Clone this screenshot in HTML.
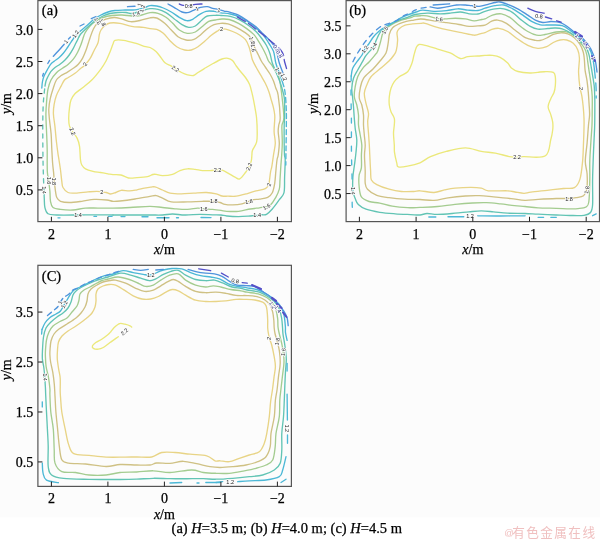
<!DOCTYPE html><html><head><meta charset="utf-8"><style>html,body{margin:0;padding:0;background:#fff;}svg{display:block;}</style></head><body>
<svg width="600" height="540" viewBox="0 0 600 540">
<rect x="0" y="0" width="600" height="517.5" fill="#fcfcfc"/>
<rect x="0" y="517.5" width="600" height="22.5" fill="#ffffff"/>
<defs>
<clipPath id="clipa"><rect x="37.9" y="0.6" width="253.5" height="221"/></clipPath>
<clipPath id="clipb"><rect x="346.1" y="0.6" width="253.4" height="221"/></clipPath>
<clipPath id="clipc"><rect x="37.9" y="265.3" width="253.5" height="221.1"/></clipPath>
</defs>
<g clip-path="url(#clipa)"><g fill="none" stroke-width="1.35" stroke-linejoin="round" stroke-linecap="round">
<path stroke="#ebe87a" d="M80.5,160 C80.12,156.85 80.05,149.7 79.5,146.1 C78.95,142.5 78.35,140.83 77.2,138.4 C76.05,135.97 73.88,133.55 72.6,131.5 C71.32,129.45 70.15,128.28 69.5,126.1 C68.85,123.92 68.7,121.47 68.7,118.4 C68.7,115.33 69.12,110.77 69.5,107.7 C69.88,104.63 70.1,102.32 71,100 C71.9,97.68 72.97,95.85 74.9,93.8 C76.83,91.75 79.78,90 82.6,87.7 C85.42,85.4 88.78,83.07 91.8,80 C94.82,76.93 98.33,72.47 100.7,69.3 C103.07,66.13 104.45,63.88 106,61 C107.55,58.12 108.83,54.83 110,52 C111.17,49.17 112.17,45.95 113,44 C113.83,42.05 113.25,40.92 115,40.3 C116.75,39.68 120.13,39.82 123.5,40.3 C126.87,40.78 131.5,42.13 135.2,43.2 C138.9,44.27 143.23,45.98 145.7,46.7 C148.17,47.42 148.28,46.7 150,47.5 C151.72,48.3 154.25,49.92 156,51.5 C157.75,53.08 159,55.12 160.5,57 C162,58.88 163.25,61.33 165,62.8 C166.75,64.27 169.25,64.8 171,65.8 C172.75,66.8 173.75,67.68 175.5,68.8 C177.25,69.92 179.5,71.5 181.5,72.5 C183.5,73.5 185.5,74.3 187.5,74.8 C189.5,75.3 191.75,75.88 193.5,75.5 C195.25,75.12 196.25,73.62 198,72.5 C199.75,71.38 201.5,70.3 204,68.8 C206.5,67.3 210,65.13 213,63.5 C216,61.87 219.5,59.87 222,59 C224.5,58.13 226.25,58.05 228,58.3 C229.75,58.55 231.12,59.22 232.5,60.5 C233.88,61.78 235.1,64.33 236.3,66 C237.5,67.67 238.17,68.58 239.7,70.5 C241.23,72.42 243.85,75.17 245.5,77.5 C247.15,79.83 248.53,81.97 249.6,84.5 C250.67,87.03 251.22,89.98 251.9,92.7 C252.58,95.42 253.12,97.88 253.7,100.8 C254.28,103.72 254.92,107.28 255.4,110.2 C255.88,113.12 256.3,114.72 256.6,118.3 C256.9,121.88 257.2,127.72 257.2,131.7 C257.2,135.68 257.38,139.1 256.6,142.2 C255.82,145.3 253.28,148.17 252.5,150.3 C251.72,152.43 252.1,153.25 251.9,155 C251.7,156.75 251.78,158.85 251.3,160.8 C250.82,162.75 249.97,164.75 249,166.7 C248.03,168.65 247.05,170.47 245.5,172.5 C243.95,174.53 241.45,178.12 239.7,178.9 C237.95,179.68 236.95,178.17 235,177.2 C233.05,176.23 230.13,174.27 228,173.1 C225.87,171.93 223.95,170.72 222.2,170.2 C220.45,169.68 219.53,169.93 217.5,170 C215.47,170.07 212.5,170.5 210,170.6 C207.5,170.7 205,170.8 202.5,170.6 C200,170.4 197.5,169.7 195,169.4 C192.5,169.1 190,168.6 187.5,168.8 C185,169 182.5,169.67 180,170.6 C177.5,171.53 175.42,173.57 172.5,174.4 C169.58,175.23 165.2,175.6 162.5,175.6 C159.8,175.6 157.92,174.58 156.3,174.4 C154.68,174.22 154.27,174.13 152.8,174.5 C151.33,174.87 150.13,176.07 147.5,176.6 C144.87,177.13 140.17,177.47 137,177.7 C133.83,177.93 131.17,178.45 128.5,178 C125.83,177.55 123.58,175.57 121,175 C118.42,174.43 115.17,174.8 113,174.6 C110.83,174.4 110.08,174.15 108,173.8 C105.92,173.45 103,172.92 100.5,172.5 C98,172.08 95.5,171.92 93,171.3 C90.5,170.68 87.37,169.85 85.5,168.8 C83.63,167.75 82.63,166.47 81.8,165 C80.97,163.53 80.88,163.15 80.5,160 Z"/>
<path stroke="#e8d486" d="M106.3,192.5 C104.83,192.15 103.38,192.1 101.8,191.9 C100.22,191.7 99.1,191.3 96.8,191.3 C94.5,191.3 91.55,191.6 88,191.9 C84.45,192.2 78.83,193 75.5,193.1 C72.17,193.2 70.08,193.43 68,192.5 C65.92,191.57 64.03,189.37 63,187.5 C61.97,185.63 62.22,184.22 61.8,181.3 C61.38,178.38 60.97,173.55 60.5,170 C60.03,166.45 59.42,162.7 59,160 C58.58,157.3 58.43,156.88 58,153.8 C57.57,150.72 56.92,146.12 56.4,141.5 C55.88,136.88 55.4,130.72 54.9,126.1 C54.4,121.48 53.53,117.38 53.4,113.8 C53.27,110.22 53.6,107.67 54.1,104.6 C54.6,101.53 55.23,98.48 56.4,95.4 C57.57,92.32 59.75,88.67 61.1,86.1 C62.45,83.53 63.3,81.43 64.5,80 C65.7,78.57 66.55,78.62 68.3,77.5 C70.05,76.38 72.92,74.83 75,73.3 C77.08,71.77 79.18,69.63 80.8,68.3 C82.42,66.97 83.17,66.9 84.7,65.3 C86.23,63.7 88.45,61.13 90,58.7 C91.55,56.27 92.67,53.37 94,50.7 C95.33,48.03 97.12,45.37 98,42.7 C98.88,40.03 98.8,36.82 99.3,34.7 C99.8,32.58 100.05,31.53 101,30 C101.95,28.47 103.5,26.67 105,25.5 C106.5,24.33 107.5,23.37 110,23 C112.5,22.63 116.38,22.75 120,23.3 C123.62,23.85 127.82,25.62 131.7,26.3 C135.58,26.98 140.25,27 143.3,27.4 C146.35,27.8 147.77,28.38 150,28.7 C152.23,29.02 154.48,28.53 156.7,29.3 C158.92,30.07 161.08,31.4 163.3,33.3 C165.52,35.2 167.77,38.47 170,40.7 C172.23,42.93 174.25,45.15 176.7,46.7 C179.15,48.25 182.27,49.45 184.7,50 C187.13,50.55 189.08,50.55 191.3,50 C193.52,49.45 195.77,48.15 198,46.7 C200.23,45.25 202.48,43.2 204.7,41.3 C206.92,39.4 209.08,37.07 211.3,35.3 C213.52,33.53 216.38,31.75 218,30.7 C219.62,29.65 219.72,29.25 221,29 C222.28,28.75 223.75,28.78 225.7,29.2 C227.65,29.62 230.37,30.53 232.7,31.5 C235.03,32.47 237.57,33.63 239.7,35 C241.83,36.37 243.95,37.75 245.5,39.7 C247.05,41.65 248.08,44.32 249,46.7 C249.92,49.08 250.42,51.78 251,54 C251.58,56.22 251.67,57.83 252.5,60 C253.33,62.17 254.63,64.47 256,67 C257.37,69.53 259.15,72.48 260.7,75.2 C262.25,77.92 263.95,80.58 265.3,83.3 C266.65,86.02 267.82,88.77 268.8,91.5 C269.78,94.23 270.42,96.98 271.2,99.7 C271.98,102.42 272.92,105.28 273.5,107.8 C274.08,110.32 274.5,112.77 274.7,114.8 C274.9,116.83 274.8,117.18 274.7,120 C274.6,122.82 274,127.82 274.1,131.7 C274.2,135.58 275.4,139.42 275.3,143.3 C275.2,147.18 274.08,151.1 273.5,155 C272.92,158.9 272.28,163.92 271.8,166.7 C271.32,169.48 271,169.32 270.6,171.7 C270.2,174.08 269.7,178.87 269.4,181 C269.1,183.13 269.48,183.23 268.8,184.5 C268.12,185.77 267.43,187.53 265.3,188.6 C263.17,189.67 259.1,190.03 256,190.9 C252.9,191.77 250,192.92 246.7,193.8 C243.4,194.68 239.32,195.8 236.2,196.2 C233.08,196.6 230.37,196.23 228,196.2 C225.63,196.17 223.95,196.4 222,196 C220.05,195.6 218.92,194.38 216.3,193.8 C213.68,193.22 210.05,192.62 206.3,192.5 C202.55,192.38 197.97,192.88 193.8,193.1 C189.63,193.32 185.27,193.8 181.3,193.8 C177.33,193.8 173.13,193.73 170,193.1 C166.87,192.47 165,191.03 162.5,190 C160,188.97 156.97,187.37 155,186.9 C153.03,186.43 152.47,186.98 150.7,187.2 C148.93,187.42 146.68,187.77 144.4,188.2 C142.12,188.63 139.47,189.35 137,189.8 C134.53,190.25 132.25,190.82 129.6,190.9 C126.95,190.98 123.4,190.03 121.1,190.3 C118.8,190.57 117.55,191.88 115.8,192.5 C114.05,193.12 112.18,194 110.6,194 C109.02,194 107.77,192.85 106.3,192.5 Z"/>
<path stroke="#cfc184" d="M113,201.3 C110.8,201.13 109.92,200.32 106.8,200 C103.68,199.68 98.47,199.18 94.3,199.4 C90.13,199.62 85.97,200.78 81.8,201.3 C77.63,201.82 72.85,202.5 69.3,202.5 C65.75,202.5 62.58,202.13 60.5,201.3 C58.42,200.47 57.63,199.17 56.8,197.5 C55.97,195.83 55.92,194 55.5,191.3 C55.08,188.6 54.62,184.43 54.3,181.3 C53.98,178.17 53.88,175.55 53.6,172.5 C53.32,169.45 52.9,166.88 52.6,163 C52.3,159.12 52.05,154.07 51.8,149.2 C51.55,144.33 51.48,138.67 51.1,133.8 C50.72,128.93 49.88,124.1 49.5,120 C49.12,115.9 48.67,112.8 48.8,109.2 C48.93,105.6 49.53,101.98 50.3,98.4 C51.07,94.82 52.38,90.77 53.4,87.7 C54.42,84.63 55.17,81.98 56.4,80 C57.63,78.02 58.95,77.12 60.8,75.8 C62.65,74.48 65.42,73.35 67.5,72.1 C69.58,70.85 71.5,69.62 73.3,68.3 C75.1,66.98 76.77,65.87 78.3,64.2 C79.83,62.53 81.25,60.53 82.5,58.3 C83.75,56.07 84.83,53.3 85.8,50.8 C86.77,48.3 87.6,45.43 88.3,43.3 C89,41.17 89.17,40.35 90,38 C90.83,35.65 92.05,31.65 93.3,29.2 C94.55,26.75 95.42,24.97 97.5,23.3 C99.58,21.63 103.02,20.17 105.8,19.2 C108.58,18.23 111.42,17.5 114.2,17.5 C116.98,17.5 119.73,18.5 122.5,19.2 C125.27,19.9 127.88,21.48 130.8,21.7 C133.72,21.92 136.8,21.15 140,20.5 C143.2,19.85 147.22,18.22 150,17.8 C152.78,17.38 154.25,17.08 156.7,18 C159.15,18.92 162.27,21.3 164.7,23.3 C167.13,25.3 169.08,27.77 171.3,30 C173.52,32.23 175.55,35.03 178,36.7 C180.45,38.37 183.33,39.57 186,40 C188.67,40.43 191.55,40.18 194,39.3 C196.45,38.42 198.48,36.47 200.7,34.7 C202.92,32.93 205.08,30.37 207.3,28.7 C209.52,27.03 211.77,25.6 214,24.7 C216.23,23.8 218.37,23.43 220.7,23.3 C223.03,23.17 225.42,23.22 228,23.9 C230.58,24.58 233.48,26.03 236.2,27.4 C238.92,28.77 241.97,30.45 244.3,32.1 C246.63,33.75 248.45,34.68 250.2,37.3 C251.95,39.92 253.45,44.88 254.8,47.8 C256.15,50.72 257.22,52.6 258.3,54.8 C259.38,57 260.13,58.97 261.3,61 C262.47,63.03 263.85,64.83 265.3,67 C266.75,69.17 268.63,71.67 270,74 C271.37,76.33 272.53,78.67 273.5,81 C274.47,83.33 275.03,85.67 275.8,88 C276.57,90.33 277.37,90.08 278.1,95 C278.83,99.92 280.08,112.5 280.2,117.5 C280.32,122.5 279.13,122.63 278.8,125 C278.47,127.37 278.12,128.65 278.2,131.7 C278.28,134.75 279.3,139.42 279.3,143.3 C279.3,147.18 278.58,152.22 278.2,155 C277.82,157.78 277.4,157.22 277,160 C276.6,162.78 276.18,167.82 275.8,171.7 C275.42,175.58 275.28,179.8 274.7,183.3 C274.12,186.8 273.47,190.37 272.3,192.7 C271.13,195.03 269.83,196.23 267.7,197.3 C265.57,198.37 261.83,198.7 259.5,199.1 C257.17,199.5 255.45,199.32 253.7,199.7 C251.95,200.08 250.95,200.72 249,201.4 C247.05,202.08 244.72,203.22 242,203.8 C239.28,204.38 235.53,204.8 232.7,204.9 C229.87,205 227.12,204.8 225,204.4 C222.88,204 221.87,203.02 220,202.5 C218.13,201.98 216.72,201.5 213.8,201.3 C210.88,201.1 206.88,201.2 202.5,201.3 C198.12,201.4 192.7,201.8 187.5,201.9 C182.3,202 175.47,202.53 171.3,201.9 C167.13,201.27 165,199.15 162.5,198.1 C160,197.05 158.38,195.9 156.3,195.6 C154.22,195.3 153.55,195.73 150,196.3 C146.45,196.87 140,198.22 135,199 C130,199.78 123.67,200.62 120,201 C116.33,201.38 115.2,201.47 113,201.3 Z"/>
<path stroke="#a4cc90" d="M113,208.1 C107.67,208.2 102.58,208.1 98,208.1 C93.42,208.1 89.67,207.78 85.5,208.1 C81.33,208.42 77.17,209.78 73,210 C68.83,210.22 63.83,209.82 60.5,209.4 C57.17,208.98 54.67,208.85 53,207.5 C51.33,206.15 51.02,204 50.5,201.3 C49.98,198.6 50.22,194.75 49.9,191.3 C49.58,187.85 49.02,183.73 48.6,180.6 C48.18,177.47 47.63,175.43 47.4,172.5 C47.17,169.57 47.23,166.63 47.2,163 C47.17,159.37 47.25,154.53 47.2,150.7 C47.15,146.87 47.05,144.1 46.9,140 C46.75,135.9 46.47,130.47 46.3,126.1 C46.13,121.73 45.85,117.9 45.9,113.8 C45.95,109.7 46.25,105.6 46.6,101.5 C46.95,97.4 47.27,92.78 48,89.2 C48.73,85.62 49.55,82.78 51,80 C52.45,77.22 54.78,74.45 56.7,72.5 C58.62,70.55 60.57,69.68 62.5,68.3 C64.43,66.92 66.5,65.72 68.3,64.2 C70.1,62.68 71.77,61.15 73.3,59.2 C74.83,57.25 76.25,54.87 77.5,52.5 C78.75,50.13 79.97,47.08 80.8,45 C81.63,42.92 81.8,42 82.5,40 C83.2,38 83.75,35.33 85,33 C86.25,30.67 88.17,28 90,26 C91.83,24 93.83,22.42 96,21 C98.17,19.58 100.33,18.42 103,17.5 C105.67,16.58 108.83,15.92 112,15.5 C115.17,15.08 118.67,14.92 122,15 C125.33,15.08 129,15.92 132,16 C135,16.08 137,16.05 140,15.5 C143,14.95 147,13.07 150,12.7 C153,12.33 155.33,12.53 158,13.3 C160.67,14.07 163.55,15.63 166,17.3 C168.45,18.97 170.48,21.18 172.7,23.3 C174.92,25.42 176.87,28.33 179.3,30 C181.73,31.67 184.63,32.97 187.3,33.3 C189.97,33.63 192.85,33.1 195.3,32 C197.75,30.9 199.77,28.48 202,26.7 C204.23,24.92 206.48,22.42 208.7,21.3 C210.92,20.18 213.08,20.38 215.3,20 C217.52,19.62 219.68,19.08 222,19 C224.32,18.92 226.45,18.78 229.2,19.5 C231.95,20.22 235.58,21.78 238.5,23.3 C241.42,24.82 244.17,26.75 246.7,28.6 C249.23,30.45 251.77,32.37 253.7,34.4 C255.63,36.43 256.85,38.57 258.3,40.8 C259.75,43.03 261.13,45.47 262.4,47.8 C263.67,50.13 264.88,52.6 265.9,54.8 C266.92,57 267.43,59.17 268.5,61 C269.57,62.83 271.08,64.02 272.3,65.8 C273.52,67.58 274.63,69.55 275.8,71.7 C276.97,73.85 278.3,74.82 279.3,78.7 C280.3,82.58 281.03,88.53 281.8,95 C282.57,101.47 283.87,112.5 283.9,117.5 C283.93,122.5 282.32,122.63 282,125 C281.68,127.37 281.95,128.65 282,131.7 C282.05,134.75 282.35,139.42 282.3,143.3 C282.25,147.18 281.95,151.1 281.7,155 C281.45,158.9 281.08,162.53 280.8,166.7 C280.52,170.87 280.25,176.25 280,180 C279.75,183.75 280,186.32 279.3,189.2 C278.6,192.08 277.35,194.58 275.8,197.3 C274.25,200.02 271.55,203.93 270,205.5 C268.45,207.07 268.25,206.32 266.5,206.7 C264.75,207.08 262.22,207.42 259.5,207.8 C256.78,208.18 253.7,208.42 250.2,209 C246.7,209.58 242.4,210.92 238.5,211.3 C234.6,211.68 229.72,211.45 226.8,211.3 C223.88,211.15 223.38,210.72 221,210.4 C218.62,210.08 215.37,209.67 212.5,209.4 C209.63,209.13 206.3,209.02 203.8,208.8 C201.3,208.58 200.22,208 197.5,208.1 C194.78,208.2 191.25,209.28 187.5,209.4 C183.75,209.52 179.17,209.12 175,208.8 C170.83,208.48 166.67,207.92 162.5,207.5 C158.33,207.08 155.42,206.3 150,206.3 C144.58,206.3 136.17,207.2 130,207.5 C123.83,207.8 118.33,208 113,208.1 Z"/>
<path stroke="#62c4b4" d="M113,215 C109.88,214.97 100.13,214.8 94.3,214.8 C88.47,214.8 84.25,214.97 78,215 C71.75,215.03 61.8,215.2 56.8,215 C51.8,214.8 49.98,215.05 48,213.8 C46.02,212.55 45.52,209.97 44.9,207.5 C44.28,205.03 44.45,201.58 44.3,199 C44.15,196.42 44.05,193.17 44,192"/>
<path stroke="#62c4b4" stroke-dasharray="4 5" d="M44,192 C43.9,189.17 43.57,180.33 43.4,175 C43.23,169.67 43.1,165.83 43,160 C42.9,154.17 42.83,146.67 42.8,140 C42.77,133.33 42.73,125.83 42.8,120 C42.87,114.17 43,109.17 43.2,105 C43.4,100.83 43.7,98.17 44,95 C44.3,91.83 44.83,87.5 45,86"/>
<path stroke="#62c4b4" d="M45,86 C45.17,85.17 45.58,82.42 46,81 C46.42,79.58 46.7,79.05 47.5,77.5 C48.3,75.95 49.55,73.37 50.8,71.7 C52.05,70.03 53.47,68.75 55,67.5 C56.53,66.25 58.33,65.45 60,64.2 C61.67,62.95 63.47,61.53 65,60 C66.53,58.47 67.82,56.95 69.2,55 C70.58,53.05 72.2,50.25 73.3,48.3 C74.4,46.35 75.1,44.68 75.8,43.3 C76.5,41.92 76.8,41.38 77.5,40 C78.2,38.62 78.8,36.67 80,35 C81.2,33.33 83.03,31.67 84.7,30 C86.37,28.33 88.12,26.67 90,25 C91.88,23.33 93.83,21.5 96,20 C98.17,18.5 100.67,17.08 103,16 C105.33,14.92 107.5,14.08 110,13.5 C112.5,12.92 115.33,12.67 118,12.5 C120.67,12.33 123.67,12.33 126,12.5 C128.33,12.67 129.67,13.67 132,13.5 C134.33,13.33 137,12.3 140,11.5 C143,10.7 147,9.07 150,8.7 C153,8.33 155.33,8.63 158,9.3 C160.67,9.97 163.33,11.13 166,12.7 C168.67,14.27 171.33,16.7 174,18.7 C176.67,20.7 179.55,23.27 182,24.7 C184.45,26.13 186.48,27.08 188.7,27.3 C190.92,27.52 193.08,27.22 195.3,26 C197.52,24.78 200,21.67 202,20 C204,18.33 205.08,16.78 207.3,16 C209.52,15.22 213.02,15.38 215.3,15.3 C217.58,15.22 218.5,15.33 221,15.5 C223.5,15.67 227.18,15.58 230.3,16.3 C233.42,17.02 236.58,18.23 239.7,19.8 C242.82,21.37 246.28,23.75 249,25.7 C251.72,27.65 253.87,29.37 256,31.5 C258.13,33.63 260.05,36.17 261.8,38.5 C263.55,40.83 265.13,42.97 266.5,45.5 C267.87,48.03 269.03,50.78 270,53.7 C270.97,56.62 271.3,59.95 272.3,63 C273.3,66.05 274.72,68.83 276,72 C277.28,75.17 278.83,78.67 280,82 C281.17,85.33 282.25,89 283,92 C283.75,95 284.23,95.75 284.5,100 C284.77,104.25 284.65,113.33 284.6,117.5 C284.55,121.67 284.27,120.75 284.2,125 C284.13,129.25 284.15,138 284.2,143 C284.25,148 284.33,152.17 284.5,155 C284.67,157.83 285.18,156.25 285.2,160 C285.22,163.75 284.8,172.05 284.6,177.5 C284.4,182.95 284.88,189 284,192.7 C283.12,196.4 281.25,196.98 279.3,199.7 C277.35,202.42 274.43,206.57 272.3,209 C270.17,211.43 268.25,213.33 266.5,214.3 C264.75,215.27 263.35,214.62 261.8,214.8 C260.25,214.98 259.13,215.2 257.2,215.4 C255.27,215.6 253.32,215.8 250.2,216 C247.08,216.2 242.4,216.6 238.5,216.6 C234.6,216.6 229.72,216.27 226.8,216 C223.88,215.73 223.38,215.2 221,215 C218.62,214.8 216,214.9 212.5,214.8 C209,214.7 204.58,214.37 200,214.4 C195.42,214.43 189.58,215.07 185,215 C180.42,214.93 176.25,214 172.5,214 C168.75,214 166.25,214.83 162.5,215 C158.75,215.17 155.42,215 150,215 C144.58,215 136.17,215 130,215 C123.83,215 115.83,215 113,215"/>
<path stroke="#4cb8d6" d="M41.8,88 C41.9,87 42.07,83.88 42.4,82 C42.73,80.12 43.03,78.57 43.75,76.7 C44.47,74.83 45.53,72.88 46.7,70.8 C47.88,68.72 49.55,65.79 50.8,64.2 C52.05,62.61 52.8,62.37 54.2,61.25 C55.6,60.13 57.68,58.83 59.2,57.5 C60.72,56.17 61.92,54.97 63.3,53.3 C64.68,51.63 66.25,49.3 67.5,47.5 C68.75,45.7 69.97,43.75 70.8,42.5 C71.63,41.25 71.63,41.2 72.5,40 C73.37,38.8 74.63,36.85 76,35.3 C77.37,33.75 78.82,32.37 80.7,30.7 C82.58,29.03 85.25,27.08 87.3,25.3 C89.35,23.52 90.88,21.63 93,20 C95.12,18.37 97.5,16.83 100,15.5 C102.5,14.17 105.5,12.83 108,12 C110.5,11.17 112.17,10.83 115,10.5 C117.83,10.17 121.67,10.12 125,10 C128.33,9.88 131.67,10.22 135,9.8 C138.33,9.38 142.5,8.2 145,7.5 C147.5,6.8 148.05,5.85 150,5.6 C151.95,5.35 154.48,5.6 156.7,6 C158.92,6.4 160.87,7 163.3,8 C165.73,9 168.63,10.45 171.3,12 C173.97,13.55 176.73,15.85 179.3,17.3 C181.87,18.75 184.47,20.37 186.7,20.7 C188.93,21.03 190.6,20.3 192.7,19.3 C194.8,18.3 197.08,16.03 199.3,14.7 C201.52,13.37 203.55,11.87 206,11.3 C208.45,10.73 211.5,11.05 214,11.3 C216.5,11.55 218.28,12.35 221,12.8 C223.72,13.25 227,13.22 230.3,14 C233.6,14.78 237.48,15.95 240.8,17.5 C244.12,19.05 247.47,21.35 250.2,23.3 C252.93,25.25 254.87,27.05 257.2,29.2 C259.53,31.35 262.27,33.87 264.2,36.2 C266.13,38.53 267.25,40.68 268.8,43.2 C270.35,45.72 272.33,48 273.5,51.3 C274.67,54.6 274.88,59.55 275.8,63 C276.72,66.45 277.88,68.83 279,72 C280.12,75.17 281.92,80.33 282.5,82"/>
<path stroke="#4cb8d6" stroke-dasharray="5 3" d="M282.5,82 C282.92,83.67 284.37,87.33 285,92 C285.63,96.67 286.08,103.67 286.3,110 C286.52,116.33 286.35,123.33 286.3,130 C286.25,136.67 286.08,144.17 286,150 C285.92,155.83 285.83,162.5 285.8,165"/>
<path stroke="#4cb8d6" d="M157,217.7 L169,217.7"/>
<path stroke="#4cb8d6" d="M176.5,217.7 L178.5,217.7"/>
<path stroke="#4cb8d6" d="M201,217.5 L211,217.6"/>
<path stroke="#4cb8d6" d="M58,217.8 L60,217.8"/>
<path stroke="#4cb8d6" d="M94,216.4 L96.5,216.4"/>
<path stroke="#4cb8d6" d="M108.5,216.4 L112,216.4"/>
<path stroke="#4cb8d6" d="M121,216.6 L125,216.6"/>
<path stroke="#4cb8d6" d="M142,216.7 L148,216.7"/>
<path stroke="#4f94dc" d="M42.6,76 L43.4,73.5"/>
<path stroke="#4f94dc" d="M47.8,63.5 L49.6,60.4"/>
<path stroke="#4f94dc" d="M53.3,56.3 C54.17,55.38 56.68,52.82 58.5,50.8 C60.32,48.78 63.25,45.3 64.2,44.2"/>
<path stroke="#4f94dc" d="M68.5,39 L70.5,37"/>
<path stroke="#4f94dc" d="M80,26 L84,24"/>
<path stroke="#4f94dc" d="M91.3,18.6 L96,16.5"/>
<path stroke="#4f94dc" d="M127.5,6.7 L135,6.25"/>
<path stroke="#4f94dc" d="M168,4 C169,4.55 171.67,5.97 174,7.3 C176.33,8.63 179.78,11.1 182,12 C184.22,12.9 185.52,12.92 187.3,12.7 C189.08,12.48 191.03,11.37 192.7,10.7 C194.37,10.03 195.97,9.27 197.3,8.7 C198.63,8.13 199.03,7.63 200.7,7.3 C202.37,6.97 205.3,6.53 207.3,6.7 C209.3,6.87 210.8,7.82 212.7,8.3 C214.6,8.78 216.7,9.1 218.7,9.6 C220.7,10.1 223.15,10.95 224.7,11.3 C226.25,11.65 225.7,11.05 228,11.7 C230.3,12.35 235.2,13.65 238.5,15.2 C241.8,16.75 244.88,19.07 247.8,21 C250.72,22.93 253.47,24.67 256,26.8 C258.53,28.93 260.67,31.47 263,33.8 C265.33,36.13 267.87,38.27 270,40.8 C272.13,43.33 274.25,45.3 275.8,49 C277.35,52.7 278.1,59 279.3,63 C280.5,67 282.38,71.33 283,73"/>
<path stroke="#5450c8" d="M179.3,4 C179.97,4.22 181.73,5.03 183.3,5.3 C184.87,5.57 186.7,5.77 188.7,5.6 C190.7,5.43 193.08,4.57 195.3,4.3 C197.52,4.03 200.88,4.05 202,4"/>
<path stroke="#5450c8" stroke-dasharray="9 4" d="M237.3,16.9 C238.97,17.88 244.18,20.7 247.3,22.75 C250.42,24.8 253.97,27.66 256,29.2 C258.03,30.74 257.55,30.45 259.5,32 C261.45,33.55 264,35.28 267.7,38.5 C271.4,41.72 278.88,47.42 281.7,51.3 C284.52,55.18 283.72,58.68 284.6,61.8 C285.48,64.92 286.6,68.63 287,70"/>
</g></g>
<g font-family="Liberation Sans, Arial, sans-serif" font-size="5.5" fill="#222" text-anchor="middle" stroke="#fcfcfc" stroke-width="1.6" paint-order="stroke" stroke-linejoin="round">
<text x="188.7" y="5.6" dy="2" transform="rotate(0 188.7 5.6)">0.8</text>
<text x="197" y="8.6" dy="2" transform="rotate(-20 197 8.6)">1</text>
<text x="219" y="9.8" dy="2" transform="rotate(15 219 9.8)">1</text>
<text x="139.5" y="4.6" dy="2" transform="rotate(-70 139.5 4.6)">1</text>
<text x="142.2" y="8.4" dy="2" transform="rotate(-70 142.2 8.4)">1.2</text>
<text x="136" y="13.6" dy="2" transform="rotate(-15 136 13.6)">1.4</text>
<text x="97.5" y="21" dy="2" transform="rotate(55 97.5 21)">1.6</text>
<text x="102.5" y="22.5" dy="2" transform="rotate(55 102.5 22.5)">1.8</text>
<text x="66" y="41.5" dy="2" transform="rotate(-50 66 41.5)">1</text>
<text x="75.5" y="34" dy="2" transform="rotate(-55 75.5 34)">1.2</text>
<text x="85" y="64" dy="2" transform="rotate(-55 85 64)">2</text>
<text x="221.5" y="29.2" dy="2" transform="rotate(0 221.5 29.2)">2</text>
<text x="252.3" y="40.5" dy="2" transform="rotate(70 252.3 40.5)">1.8</text>
<text x="253.4" y="48" dy="2" transform="rotate(80 253.4 48)">1.6</text>
<text x="278.3" y="71" dy="2" transform="rotate(60 278.3 71)">1.4</text>
<text x="284" y="77" dy="2" transform="rotate(65 284 77)">1.2</text>
<text x="276.5" y="48.5" dy="2" transform="rotate(55 276.5 48.5)" fill="#2a2a8a">0.8</text>
<text x="279.5" y="54" dy="2" transform="rotate(60 279.5 54)" fill="#2a2a8a">0.8</text>
<text x="175.5" y="68.8" dy="2" transform="rotate(35 175.5 68.8)">2.2</text>
<text x="72.6" y="131.5" dy="2" transform="rotate(65 72.6 131.5)">2.2</text>
<text x="217.5" y="170" dy="2" transform="rotate(0 217.5 170)">2.2</text>
<text x="249" y="166.7" dy="2" transform="rotate(-65 249 166.7)">2.2</text>
<text x="268.8" y="184.5" dy="2" transform="rotate(-70 268.8 184.5)">2</text>
<text x="249" y="201.4" dy="2" transform="rotate(-10 249 201.4)">1.8</text>
<text x="266.5" y="206.7" dy="2" transform="rotate(-30 266.5 206.7)">1.6</text>
<text x="257.2" y="215.4" dy="2" transform="rotate(0 257.2 215.4)">1.4</text>
<text x="101.8" y="191.9" dy="2" transform="rotate(0 101.8 191.9)">2</text>
<text x="213.8" y="201.3" dy="2" transform="rotate(0 213.8 201.3)">1.8</text>
<text x="203.8" y="208.8" dy="2" transform="rotate(0 203.8 208.8)">1.6</text>
<text x="78" y="215" dy="2" transform="rotate(0 78 215)">1.4</text>
<text x="48.6" y="180.6" dy="2" transform="rotate(90 48.6 180.6)">1.6</text>
<text x="54.3" y="181.3" dy="2" transform="rotate(90 54.3 181.3)">1.8</text>
<text x="43.6" y="190" dy="2" transform="rotate(90 43.6 190)">1.4</text>
</g>
<g clip-path="url(#clipb)"><g fill="none" stroke-width="1.35" stroke-linejoin="round" stroke-linecap="round">
<path stroke="#ebe87a" d="M419,44.5 C420.43,44.22 422,44.53 425.1,45.3 C428.2,46.07 433.42,47.83 437.6,49.1 C441.78,50.37 446.42,51.33 450.2,52.9 C453.98,54.47 457.35,57.88 460.3,58.5 C463.25,59.12 464.97,57.02 467.9,56.6 C470.83,56.18 475.05,56.2 477.9,56 C480.75,55.8 482.57,55.5 485,55.4 C487.43,55.3 489.98,55.08 492.5,55.4 C495.02,55.72 497.57,56.05 500.1,57.3 C502.63,58.55 505.82,61.12 507.7,62.9 C509.58,64.68 509.68,66.57 511.4,68 C513.12,69.43 514.9,70.67 518,71.5 C521.1,72.33 526.7,72.87 530,73 C533.3,73.13 535.42,72.52 537.8,72.3 C540.18,72.08 541.72,71.7 544.3,71.7 C546.88,71.7 551.47,71.43 553.3,72.3 C555.13,73.17 554.97,74.63 555.3,76.9 C555.63,79.17 555.52,83.32 555.3,85.9 C555.08,88.48 554.77,90.23 554,92.4 C553.23,94.57 551.68,96.52 550.7,98.9 C549.72,101.28 548.1,104.12 548.1,106.7 C548.1,109.28 549.93,111.82 550.7,114.4 C551.47,116.98 552.37,119.6 552.7,122.2 C553.03,124.8 553.02,127.12 552.7,130 C552.38,132.88 552.02,135.2 550.8,139.5 C549.58,143.8 549.93,152.93 545.4,155.8 C540.87,158.67 528.32,156.5 523.6,156.7 C518.88,156.9 519.48,157.02 517.1,157 C514.72,156.98 512.93,157.25 509.3,156.6 C505.67,155.95 499.97,153.97 495.3,153.1 C490.63,152.23 486.27,152.27 481.3,151.4 C476.33,150.53 471.33,147.9 465.5,147.9 C459.67,147.9 452.13,149.95 446.3,151.4 C440.47,152.85 434.88,154.7 430.5,156.6 C426.12,158.5 423.83,161.2 420,162.8 C416.17,164.4 411.12,165.52 407.5,166.2 C403.88,166.88 400.08,167.42 398.3,166.9 C396.52,166.38 397.43,165.53 396.8,163.1 C396.17,160.67 394.92,155.32 394.5,152.3 C394.08,149.28 394.47,148.17 394.3,145 C394.13,141.83 393.5,136.63 393.5,133.3 C393.5,129.97 394.17,127.5 394.3,125 C394.43,122.5 394.85,120.52 394.3,118.3 C393.75,116.08 391.83,113.92 391,111.7 C390.17,109.48 389.58,107.5 389.3,105 C389.02,102.5 389.02,99.48 389.3,96.7 C389.58,93.92 390.17,90.8 391,88.3 C391.83,85.8 392.92,83.63 394.3,81.7 C395.68,79.77 397.07,78.37 399.3,76.7 C401.53,75.03 405.58,73.98 407.7,71.7 C409.82,69.42 410.95,65.78 412,63 C413.05,60.22 413.25,57.67 414,55 C414.75,52.33 415.67,48.75 416.5,47 C417.33,45.25 417.57,44.78 419,44.5 Z"/>
<path stroke="#e8d486" d="M389.1,189.2 C385,188.05 379.75,186.13 376.8,184.6 C373.85,183.07 372.43,182.3 371.4,180 C370.37,177.7 370.87,174.9 370.6,170.8 C370.33,166.7 370.02,159.7 369.8,155.4 C369.58,151.1 369.52,148.68 369.3,145 C369.08,141.32 368.77,137.18 368.5,133.3 C368.23,129.42 367.7,125.03 367.7,121.7 C367.7,118.37 368.78,116.37 368.5,113.3 C368.22,110.23 366.7,106.63 366,103.3 C365.3,99.97 364.17,96.35 364.3,93.3 C364.43,90.25 365.68,87.77 366.8,85 C367.92,82.23 368.63,79.53 371,76.7 C373.37,73.87 378,70.62 381,68 C384,65.38 386.83,63.17 389,61 C391.17,58.83 392.78,56.78 394,55 C395.22,53.22 395.7,52.75 396.3,50.3 C396.9,47.85 397.48,43.23 397.6,40.3 C397.72,37.37 396.78,34.6 397,32.7 C397.22,30.8 397.55,30.15 398.9,28.9 C400.25,27.65 402.8,26.03 405.1,25.2 C407.4,24.37 410.05,24.22 412.7,23.9 C415.35,23.58 418.93,23.4 421,23.3 C423.07,23.2 422.53,22.67 425.1,23.3 C427.67,23.93 432.42,25.95 436.4,27.1 C440.38,28.25 444.8,29.27 449,30.2 C453.2,31.13 457.42,31.87 461.6,32.7 C465.78,33.53 470.75,35.1 474.1,35.2 C477.45,35.3 479.88,33.72 481.7,33.3 C483.52,32.88 483.4,33.32 485,32.7 C486.6,32.08 489,30.33 491.3,29.6 C493.6,28.87 496.07,27.98 498.8,28.3 C501.53,28.62 504.55,29.72 507.7,31.5 C510.85,33.28 514.35,36.7 517.7,39 C521.05,41.3 524.43,43.73 527.8,45.3 C531.17,46.87 534.75,48.17 537.9,48.4 C541.05,48.63 544.13,47.68 546.7,46.7 C549.27,45.72 551.08,43.62 553.3,42.5 C555.52,41.38 557.77,40.42 560,40 C562.23,39.58 564.48,39.45 566.7,40 C568.92,40.55 571.45,41.63 573.3,43.3 C575.15,44.97 576.78,47.58 577.8,50 C578.82,52.42 579.2,55.3 579.4,57.8 C579.6,60.3 579.13,62.47 579,65 C578.87,67.53 578.45,69.3 578.6,73 C578.75,76.7 579.35,83.32 579.9,87.2 C580.45,91.08 581.35,93.05 581.9,96.3 C582.45,99.55 582.85,103.03 583.2,106.7 C583.55,110.37 583.87,114.75 584,118.3 C584.13,121.85 584.08,123.87 584,128 C583.92,132.13 583.73,137.55 583.5,143.1 C583.27,148.65 583.2,155.25 582.6,161.3 C582,167.35 581.27,175.02 579.9,179.4 C578.53,183.78 577.13,186.08 574.4,187.6 C571.67,189.12 568.03,188.05 563.5,188.5 C558.97,188.95 552.63,189.7 547.2,190.3 C541.77,190.9 534.77,191.6 530.9,192.1 C527.03,192.6 526.65,193.32 524,193.3 C521.35,193.28 517.75,192.42 515,192 C512.25,191.58 511.95,191 507.5,190.8 C503.05,190.6 492.67,191.25 488.3,190.8 C483.93,190.35 484.22,188.68 481.3,188.1 C478.38,187.52 475.18,187.3 470.8,187.3 C466.42,187.3 459.38,187.67 455,188.1 C450.62,188.53 448,189.17 444.5,189.9 C441,190.63 438.08,192.35 434,192.5 C429.92,192.65 423.38,190.97 420,190.8 C416.62,190.63 416.8,191.38 413.7,191.5 C410.6,191.62 405.5,191.88 401.4,191.5 C397.3,191.12 393.2,190.35 389.1,189.2 Z"/>
<path stroke="#cfc184" d="M404.5,199.2 C399.35,198.9 393.72,198.33 389.1,197.7 C384.48,197.07 380.4,196.82 376.8,195.4 C373.2,193.98 369.43,191.25 367.5,189.2 C365.57,187.15 365.58,186.17 365.2,183.1 C364.82,180.03 365.32,175.42 365.2,170.8 C365.08,166.18 364.5,159.7 364.5,155.4 C364.5,151.1 365.23,148.4 365.2,145 C365.17,141.6 364.58,138.33 364.3,135 C364.02,131.67 363.63,128.33 363.5,125 C363.37,121.67 363.78,118.33 363.5,115 C363.22,111.67 362.5,107.78 361.8,105 C361.1,102.22 359.57,101.08 359.3,98.3 C359.03,95.52 359.5,91.63 360.2,88.3 C360.9,84.97 361.37,81.52 363.5,78.3 C365.63,75.08 370.25,71.88 373,69 C375.75,66.12 377.83,63.67 380,61 C382.17,58.33 384.63,56.03 386,53 C387.37,49.97 387.63,45.97 388.2,42.8 C388.77,39.63 388.67,36.52 389.4,34 C390.13,31.48 391.02,29.38 392.6,27.7 C394.18,26.02 396.6,24.95 398.9,23.9 C401.2,22.85 403.9,22.03 406.4,21.4 C408.9,20.77 411.47,20.5 413.9,20.1 C416.33,19.7 417.67,18.88 421,19 C424.33,19.12 429.65,20.18 433.9,20.8 C438.15,21.42 442.32,22.08 446.5,22.7 C450.68,23.32 455.23,23.88 459,24.5 C462.77,25.12 465.95,26.18 469.1,26.4 C472.25,26.62 475.25,26 477.9,25.8 C480.55,25.6 482.77,25.93 485,25.2 C487.23,24.47 489.2,22.25 491.3,21.4 C493.4,20.55 495.08,19.78 497.6,20.1 C500.12,20.42 503.47,21.62 506.4,23.3 C509.33,24.98 512.05,27.8 515.2,30.2 C518.35,32.6 521.95,36.02 525.3,37.7 C528.65,39.38 532.85,39.83 535.3,40.3 C537.75,40.77 538.1,40.88 540,40.5 C541.9,40.12 544.48,39.02 546.7,38 C548.92,36.98 550.9,35.27 553.3,34.4 C555.7,33.53 558.68,32.88 561.1,32.8 C563.52,32.72 565.58,33.07 567.8,33.9 C570.02,34.73 572.37,36.05 574.4,37.8 C576.43,39.55 578.52,42 580,44.4 C581.48,46.8 582.57,49.6 583.3,52.2 C584.03,54.8 584.1,56.97 584.4,60 C584.7,63.03 584.67,66.95 585.1,70.4 C585.53,73.85 586.47,77.03 587,80.7 C587.53,84.37 587.97,88.72 588.3,92.4 C588.63,96.08 588.78,99.13 589,102.8 C589.22,106.47 589.68,110.7 589.6,114.4 C589.52,118.1 588.92,120.22 588.5,125 C588.08,129.78 587.63,137.05 587.1,143.1 C586.57,149.15 585.3,156.15 585.3,161.3 C585.3,166.45 586.85,169.32 587.1,174 C587.35,178.68 587.4,185.78 586.8,189.4 C586.2,193.02 585.27,194.33 583.5,195.7 C581.73,197.07 578.62,197.13 576.2,197.6 C573.78,198.07 572.32,198.35 569,198.5 C565.68,198.65 561.45,198.35 556.3,198.5 C551.15,198.65 543.32,199.08 538.1,199.4 C532.88,199.72 529.52,200.53 525,200.4 C520.48,200.27 516.25,199.18 511,198.6 C505.75,198.02 498.75,197.38 493.5,196.9 C488.25,196.42 484.17,195.85 479.5,195.7 C474.83,195.55 470.75,195.65 465.5,196 C460.25,196.35 453.25,197.07 448,197.8 C442.75,198.53 438.67,200.12 434,200.4 C429.33,200.68 424.92,199.7 420,199.5 C415.08,199.3 409.65,199.5 404.5,199.2 Z"/>
<path stroke="#a4cc90" d="M407.5,207.7 C402.87,207.5 396.82,206.97 392.2,206.2 C387.58,205.43 383.65,203.88 379.8,203.1 C375.95,202.32 372.17,202.53 369.1,201.5 C366.03,200.47 363.07,199.45 361.4,196.9 C359.73,194.35 359.48,189.78 359.1,186.2 C358.72,182.62 358.72,178.48 359.1,175.4 C359.48,172.32 361.02,171.03 361.4,167.7 C361.78,164.37 361.33,159.18 361.4,155.4 C361.47,151.62 362,148.4 361.8,145 C361.6,141.6 360.75,138.33 360.2,135 C359.65,131.67 358.78,128.33 358.5,125 C358.22,121.67 358.78,118.33 358.5,115 C358.22,111.67 357.5,108.05 356.8,105 C356.1,101.95 354.57,99.75 354.3,96.7 C354.03,93.65 354.63,90.03 355.2,86.7 C355.77,83.37 356.45,79.77 357.7,76.7 C358.95,73.63 360.77,70.8 362.7,68.3 C364.63,65.8 367.25,63.92 369.3,61.7 C371.35,59.48 373.63,56.68 375,55 C376.37,53.32 376.57,53.85 377.5,51.6 C378.43,49.35 379.77,44.43 380.6,41.5 C381.43,38.57 381.77,35.88 382.5,34 C383.23,32.12 383.95,31.47 385,30.2 C386.05,28.93 387.12,27.65 388.8,26.4 C390.48,25.15 393,23.75 395.1,22.7 C397.2,21.65 399.1,20.85 401.4,20.1 C403.7,19.35 406.63,18.85 408.9,18.2 C411.17,17.55 412.98,16.62 415,16.2 C417.02,15.78 419,15.75 421,15.7 C423,15.65 424.02,15.37 427,15.9 C429.98,16.43 435.87,18.4 438.9,18.9 C441.93,19.4 442.47,19.02 445.2,18.9 C447.93,18.78 451.95,18.2 455.3,18.2 C458.65,18.2 462.17,18.47 465.3,18.9 C468.43,19.33 471.37,20.7 474.1,20.8 C476.83,20.9 479.88,19.82 481.7,19.5 C483.52,19.18 483.2,19.63 485,18.9 C486.8,18.17 489.77,15.95 492.5,15.1 C495.23,14.25 498.45,13.38 501.4,13.8 C504.35,14.22 507.27,15.7 510.2,17.6 C513.13,19.5 516.07,22.88 519,25.2 C521.93,27.52 524.87,29.83 527.8,31.5 C530.73,33.17 533.73,34.7 536.6,35.2 C539.47,35.7 541.77,35.03 545,34.5 C548.23,33.97 552.57,32.47 556,32 C559.43,31.53 562.9,31.3 565.6,31.7 C568.3,32.1 569.98,32.83 572.2,34.4 C574.42,35.97 576.87,38.87 578.9,41.1 C580.93,43.33 583.1,45.58 584.4,47.8 C585.7,50.02 586.13,52 586.7,54.4 C587.27,56.8 587.42,59.53 587.8,62.2 C588.18,64.87 588.48,66.88 589,70.4 C589.52,73.92 590.37,78.98 590.9,83.3 C591.43,87.62 591.98,91.53 592.2,96.3 C592.42,101.07 592.23,107.12 592.2,111.9 C592.17,116.68 592.23,119.8 592,125 C591.77,130.2 591.17,137.05 590.8,143.1 C590.43,149.15 589.97,155.25 589.8,161.3 C589.63,167.35 589.95,172.75 589.8,179.4 C589.65,186.05 589.53,196.6 588.9,201.2 C588.27,205.8 587.82,205.77 586,207 C584.18,208.23 580.67,208.3 578,208.6 C575.33,208.9 573.62,208.85 570,208.8 C566.38,208.75 561.62,208.47 556.3,208.3 C550.98,208.13 543.32,208.1 538.1,207.8 C532.88,207.5 528.93,206.87 525,206.5 C521.07,206.13 518.58,206.03 514.5,205.6 C510.42,205.17 505.17,204.38 500.5,203.9 C495.83,203.42 491.17,202.85 486.5,202.7 C481.83,202.55 477.75,202.72 472.5,203 C467.25,203.28 460.83,203.82 455,204.4 C449.17,204.98 443.33,206 437.5,206.5 C431.67,207 425,207.2 420,207.4 C415,207.6 412.13,207.9 407.5,207.7 Z"/>
<path stroke="#62c4b4" d="M410.6,214.6 C406.47,214.4 400.33,214.18 395.2,213.8 C390.07,213.42 384.67,213.07 379.8,212.3 C374.93,211.53 369.58,210.48 366,209.2 C362.42,207.92 360.1,206.38 358.3,204.6 C356.5,202.82 356.1,200.8 355.2,198.5 C354.3,196.2 353.28,194.4 352.9,190.8 C352.52,187.2 352.63,181.27 352.9,176.9 C353.17,172.53 353.98,168.7 354.5,164.6 C355.02,160.5 355.62,156.4 356,152.3 C356.38,148.2 356.93,144 356.8,140 C356.67,136 355.62,131.92 355.2,128.3 C354.78,124.68 354.58,121.9 354.3,118.3 C354.02,114.7 353.77,110.03 353.5,106.7 C353.23,103.37 352.98,101.37 352.7,98.3 C352.42,95.23 351.67,91.63 351.8,88.3 C351.93,84.97 352.52,81.35 353.5,78.3 C354.48,75.25 356.2,72.77 357.7,70 C359.2,67.23 361.1,64.13 362.5,61.7 C363.9,59.27 364.23,57.92 366.1,55.4 C367.97,52.88 372.02,49.12 373.7,46.6 C375.38,44.08 375.15,42.62 376.2,40.3 C377.25,37.98 378.53,34.8 380,32.7 C381.47,30.6 383.12,29.17 385,27.7 C386.88,26.23 388.98,25.17 391.3,23.9 C393.62,22.63 396.38,21.15 398.9,20.1 C401.42,19.05 403.68,18.53 406.4,17.6 C409.12,16.67 411.67,15.23 415.2,14.5 C418.73,13.77 423.43,13.32 427.6,13.2 C431.77,13.08 436.43,13.8 440.2,13.8 C443.97,13.8 446.85,13.5 450.2,13.2 C453.55,12.9 457.15,11.9 460.3,12 C463.45,12.1 466.17,13.47 469.1,13.8 C472.03,14.13 475.25,14.42 477.9,14 C480.55,13.58 482.13,12.17 485,11.3 C487.87,10.43 491.95,9.22 495.1,8.8 C498.25,8.38 500.97,8.17 503.9,8.8 C506.83,9.43 509.77,10.72 512.7,12.6 C515.63,14.48 518.57,17.8 521.5,20.1 C524.43,22.4 527.57,24.88 530.3,26.4 C533.03,27.92 534.97,28.85 537.9,29.2 C540.83,29.55 545.05,28.7 547.9,28.5 C550.75,28.3 552.62,27.93 555,28 C557.38,28.07 559.52,28.02 562.2,28.9 C564.88,29.78 568.32,31.45 571.1,33.3 C573.88,35.15 576.48,37.77 578.9,40 C581.32,42.23 583.93,44.3 585.6,46.7 C587.27,49.1 588.07,51.63 588.9,54.4 C589.73,57.17 590.05,60.2 590.6,63.3 C591.15,66.4 591.6,69.23 592.2,73 C592.8,76.77 593.77,81.58 594.2,85.9 C594.63,90.22 594.7,94.15 594.8,98.9 C594.9,103.65 594.83,109.55 594.8,114.4 C594.77,119.25 594.82,121.7 594.6,128 C594.38,134.3 593.83,143.63 593.5,152.2 C593.17,160.77 592.75,170.63 592.6,179.4 C592.45,188.17 592.95,199.28 592.6,204.8 C592.25,210.32 591.93,210.75 590.5,212.5 C589.07,214.25 587.42,214.8 584,215.3 C580.58,215.8 574.62,215.55 570,215.5 C565.38,215.45 561.62,215.22 556.3,215 C550.98,214.78 543.32,214.45 538.1,214.2 C532.88,213.95 530.1,213.67 525,213.5 C519.9,213.33 512.75,213.48 507.5,213.2 C502.25,212.92 497.87,212.18 493.5,211.8 C489.13,211.42 485.38,210.9 481.3,210.9 C477.22,210.9 473.38,211.42 469,211.8 C464.62,212.18 460.25,212.77 455,213.2 C449.75,213.63 442.17,214.35 437.5,214.4 C432.83,214.45 429.92,213.4 427,213.5 C424.08,213.6 422.73,214.82 420,215 C417.27,215.18 414.73,214.8 410.6,214.6 Z"/>
<path stroke="#4cb8d6" d="M351.2,76 C351.45,74.72 351.73,70.68 352.7,68.3 C353.67,65.92 355.45,63.92 357,61.7 C358.55,59.48 360.68,57.1 362,55 C363.32,52.9 363.78,50.93 364.9,49.1 C366.02,47.27 367.23,46.1 368.7,44 C370.17,41.9 372.03,38.58 373.7,36.5 C375.37,34.42 377.02,32.97 378.7,31.5 C380.38,30.03 381.28,29.28 383.8,27.7 C386.32,26.12 390.87,23.68 393.8,22 C396.73,20.32 398.88,18.85 401.4,17.6 C403.92,16.35 406.47,15.43 408.9,14.5 C411.33,13.57 413.72,12.73 416,12 C418.28,11.27 419.62,10.22 422.6,10.1 C425.58,9.98 429.92,11.2 433.9,11.3 C437.88,11.4 442.52,11.12 446.5,10.7 C450.48,10.28 454.23,8.9 457.8,8.8 C461.37,8.7 464.55,9.82 467.9,10.1 C471.25,10.38 475.05,10.82 477.9,10.5 C480.75,10.18 482.13,9 485,8.2 C487.87,7.4 491.95,6.23 495.1,5.7 C498.25,5.17 500.97,4.48 503.9,5 C506.83,5.52 509.55,7.12 512.7,8.8 C515.85,10.48 519.65,13 522.8,15.1 C525.95,17.2 528.67,19.78 531.6,21.4 C534.53,23.02 537.27,24.2 540.4,24.8 C543.53,25.4 546.77,24.87 550.4,25 C554.03,25.13 558.75,24.58 562.2,25.6 C565.65,26.62 568.13,29.07 571.1,31.1 C574.07,33.13 577.4,35.58 580,37.8 C582.6,40.02 584.85,42 586.7,44.4 C588.55,46.8 590,49.42 591.1,52.2 C592.2,54.98 592.73,58.13 593.3,61.1 C593.87,64.07 594.3,68.52 594.5,70"/>
<path stroke="#4cb8d6" stroke-dasharray="8 5" d="M594.5,70 C594.67,71.67 595.23,77 595.5,80 C595.77,83 595.98,85 596.1,88 C596.22,91 596.18,96.33 596.2,98"/>
<path stroke="#4cb8d6" d="M592.6,215.7 L596.2,213.9"/>
<path stroke="#4cb8d6" stroke-dasharray="5 9" d="M351.2,76 C351.17,79.17 350.97,87.67 351,95 C351.03,102.33 351.33,111.83 351.4,120 C351.47,128.17 351.37,137.33 351.4,144 C351.43,150.67 351.5,154.83 351.6,160 C351.7,165.17 351.9,170 352,175 C352.1,180 352.17,185.07 352.2,190 C352.23,194.93 352.08,200.93 352.2,204.6 C352.32,208.27 352.6,210.18 352.9,212 C353.2,213.82 353.82,214.92 354,215.5"/>
<path stroke="#4cb8d6" d="M428.8,217 L435.8,217"/>
<path stroke="#4cb8d6" d="M448,216.7 L463.8,216.7"/>
<path stroke="#4cb8d6" d="M477.8,215.8 C481.5,215.83 492.13,216 500,216 C507.87,216 520.83,215.83 525,215.8"/>
<path stroke="#4cb8d6" d="M538.1,217.3 L543.6,217.3"/>
<path stroke="#4cb8d6" d="M550.8,217.3 L556.3,217.3"/>
<path stroke="#4f94dc" stroke-dasharray="5 5" d="M352.9,61.7 C353.63,60.33 355.3,56.75 357.3,53.5 C359.3,50.25 362.45,45.45 364.9,42.2 C367.35,38.95 369.48,36.53 372,34 C374.52,31.47 377.42,28.68 380,27 C382.58,25.32 384.78,24.93 387.5,23.9 C390.22,22.87 393.57,22.17 396.3,20.8 C399.03,19.43 401.38,17.07 403.9,15.7 C406.42,14.33 409.72,13.43 411.4,12.6 C413.08,11.77 412.4,11.43 414,10.7 C415.6,9.97 418.32,8.83 421,8.2 C423.68,7.57 428.58,7.12 430.1,6.9"/>
<path stroke="#4f94dc" d="M430.1,6.9 C431.35,7.12 434.87,8.2 437.6,8.2 C440.33,8.2 443.35,7.43 446.5,6.9 C449.65,6.37 453.37,5.32 456.5,5 C459.63,4.68 462.78,4.88 465.3,5 C467.82,5.12 469.28,5.48 471.6,5.7 C473.92,5.92 476.47,6.52 479.2,6.3 C481.93,6.08 485.37,5.03 488,4.4 C490.63,3.77 493,2.9 495,2.5 C497,2.1 497.88,1.68 500,2 C502.12,2.32 504.75,3.27 507.7,4.4 C510.65,5.53 514.35,7.02 517.7,8.8 C521.05,10.58 524.87,13.22 527.8,15.1 C530.73,16.98 532.78,18.87 535.3,20.1 C537.82,21.33 540.27,22.27 542.9,22.5 C545.53,22.73 548.07,21.45 551.1,21.5 C554.13,21.55 558.13,21.75 561.1,22.8 C564.07,23.85 566.48,26.05 568.9,27.8 C571.32,29.55 573.2,31.45 575.6,33.3 C578,35.15 581.08,36.85 583.3,38.9 C585.52,40.95 587.23,43.02 588.9,45.6 C590.57,48.18 592.18,51.63 593.3,54.4 C594.42,57.17 594.98,59.27 595.6,62.2 C596.22,65.13 596.77,70.37 597,72"/>
<path stroke="#4f94dc" d="M433.2,5 L449.6,3.8"/>
<path stroke="#5450c8" d="M527.8,8.2 C529.05,8.72 532.58,10.47 535.3,11.3 C538.02,12.13 542.63,12.88 544.1,13.2"/>
<path stroke="#5450c8" d="M545.4,17 L551.7,18.9"/>
<path stroke="#5450c8" d="M556.7,20.8 L561.1,22.2"/>
<path stroke="#5450c8" stroke-width="2.2" d="M575,32 L582,36.5"/>
<path stroke="#5450c8" stroke-width="2.2" d="M584,42 L589,47"/>
<path stroke="#5450c8" stroke-width="2.0" d="M592,56 L595,61"/>
</g></g>
<g font-family="Liberation Sans, Arial, sans-serif" font-size="5.5" fill="#222" text-anchor="middle" stroke="#fcfcfc" stroke-width="1.6" paint-order="stroke" stroke-linejoin="round">
<text x="474.8" y="6.3" dy="2" transform="rotate(0 474.8 6.3)">1</text>
<text x="539" y="16.2" dy="2" transform="rotate(5 539 16.2)">0.8</text>
<text x="439" y="18.9" dy="2" transform="rotate(8 439 18.9)">1.6</text>
<text x="364.9" y="49.1" dy="2" transform="rotate(-55 364.9 49.1)">1.2</text>
<text x="373.6" y="46.3" dy="2" transform="rotate(-58 373.6 46.3)">1.4</text>
<text x="385" y="30.2" dy="2" transform="rotate(-60 385 30.2)">1.6</text>
<text x="580.6" y="88.5" dy="2" transform="rotate(90 580.6 88.5)">2</text>
<text x="517" y="157" dy="2" transform="rotate(0 517 157)">2.2</text>
<text x="586.8" y="189.8" dy="2" transform="rotate(-80 586.8 189.8)">1.8</text>
<text x="569" y="198.5" dy="2" transform="rotate(0 569 198.5)">1.8</text>
<text x="352.9" y="190.8" dy="2" transform="rotate(90 352.9 190.8)">1.4</text>
<text x="470" y="216.2" dy="2" transform="rotate(0 470 216.2)">1.2</text>
<text x="578.5" y="37.5" dy="2" transform="rotate(50 578.5 37.5)" fill="#22226a">1.4</text>
<text x="586.5" y="45" dy="2" transform="rotate(55 586.5 45)" fill="#22226a">1.2</text>
<text x="593.5" y="58" dy="2" transform="rotate(65 593.5 58)" fill="#22226a">1</text>
</g>
<g clip-path="url(#clipc)"><g fill="none" stroke-width="1.35" stroke-linejoin="round" stroke-linecap="round">
<path stroke="#ebe87a" d="M118.3,336.7 C116.92,337.67 112.5,340.7 110,342.5 C107.5,344.3 105.25,346.38 103.3,347.5 C101.35,348.62 99.97,349.07 98.3,349.2 C96.63,349.33 94.27,348.87 93.3,348.3 C92.33,347.73 92.08,346.77 92.5,345.8 C92.92,344.83 94.27,343.6 95.8,342.5 C97.33,341.4 99.75,340.45 101.7,339.2 C103.65,337.95 105.98,336.25 107.5,335 C109.02,333.75 109.68,332.95 110.8,331.7 C111.92,330.45 112.95,328.75 114.2,327.5 C115.45,326.25 117.2,324.9 118.3,324.2 C119.4,323.5 119.68,323.3 120.8,323.3 C121.92,323.3 123.47,323.78 125,324.2 C126.53,324.62 128.88,325.32 130,325.8 C131.12,326.28 131.42,326.88 131.7,327.1"/>
<path stroke="#e8d486" d="M57.5,350 C57.7,347.15 57.75,344.33 58.5,342 C59.25,339.67 60.42,337.83 62,336 C63.58,334.17 65.67,332.67 68,331 C70.33,329.33 73.5,327.67 76,326 C78.5,324.33 81,322.5 83,321 C85,319.5 86.5,318.33 88,317 C89.5,315.67 90.83,314.67 92,313 C93.17,311.33 94.33,309 95,307 C95.67,305 95.83,303.17 96,301 C96.17,298.83 95.67,296 96,294 C96.33,292 96.83,290.33 98,289 C99.17,287.67 101.17,286.75 103,286 C104.83,285.25 106.92,284.65 109,284.5 C111.08,284.35 112.93,284.15 115.5,285.1 C118.07,286.05 121.45,288.42 124.4,290.2 C127.35,291.98 130.27,294.33 133.2,295.8 C136.13,297.27 139.07,298.47 142,299 C144.93,299.53 148.08,299.42 150.8,299 C153.52,298.58 155.78,297.65 158.3,296.5 C160.82,295.35 163.58,293.27 165.9,292.1 C168.22,290.93 170.13,289.72 172.2,289.5 C174.27,289.28 176.07,289.85 178.3,290.8 C180.53,291.75 182.72,293.63 185.6,295.2 C188.48,296.77 192.25,299.15 195.6,300.2 C198.95,301.25 202.33,301.28 205.7,301.5 C209.07,301.72 212.45,301.6 215.8,301.5 C219.15,301.4 222.43,301.25 225.8,300.9 C229.17,300.55 232.82,299.65 236,299.4 C239.18,299.15 241.75,299.3 244.9,299.4 C248.05,299.5 251.93,299.53 254.9,300 C257.87,300.47 260.85,301.27 262.7,302.2 C264.55,303.13 265.27,304.12 266,305.6 C266.73,307.08 266.82,308.7 267.1,311.1 C267.38,313.5 267.6,317.18 267.7,320 C267.8,322.82 267.57,325.67 267.7,328 C267.83,330.33 268.15,332.08 268.5,334 C268.85,335.92 269.27,337.67 269.8,339.5 C270.33,341.33 271,342.3 271.7,345 C272.4,347.7 273.38,352.12 274,355.7 C274.62,359.28 275.4,362.9 275.4,366.5 C275.4,370.1 274.48,373.47 274,377.3 C273.52,381.13 273.07,385.42 272.5,389.5 C271.93,393.58 271.13,397.27 270.6,401.8 C270.07,406.33 269.93,411.45 269.3,416.7 C268.67,421.95 267.63,428.87 266.8,433.3 C265.97,437.73 265.55,440.23 264.3,443.3 C263.05,446.37 261.8,449.75 259.3,451.7 C256.8,453.65 252.63,453.9 249.3,455 C245.97,456.1 242.63,457.18 239.3,458.3 C235.97,459.42 232.52,461.28 229.3,461.7 C226.08,462.12 222.38,460.95 220,460.8 C217.62,460.65 217.22,461.63 215,460.8 C212.78,459.97 210.87,456.9 206.7,455.8 C202.53,454.7 195.28,454.75 190,454.2 C184.72,453.65 179.72,452.78 175,452.5 C170.28,452.22 165.58,451.75 161.7,452.5 C157.82,453.25 155.87,456.25 151.7,457 C147.53,457.75 141.15,456.98 136.7,457 C132.25,457.02 130.1,457.08 125,457.1 C119.9,457.12 112.08,457.38 106.1,457.1 C100.12,456.82 94.48,455.97 89.1,455.4 C83.72,454.83 77.22,455.53 73.8,453.7 C70.38,451.87 70.03,448.5 68.6,444.4 C67.17,440.3 66.33,434.5 65.2,429.1 C64.07,423.7 62.57,417.18 61.8,412 C61.03,406.82 60.87,401.38 60.6,398 C60.33,394.62 60.27,394.98 60.2,391.7 C60.13,388.42 60.45,382.02 60.2,378.3 C59.95,374.58 59.18,372.6 58.7,369.4 C58.22,366.2 57.5,362.33 57.3,359.1 C57.1,355.87 57.3,352.85 57.5,350 Z"/>
<path stroke="#cfc184" d="M50,350 C50.18,347.67 50.33,343.67 51,341 C51.67,338.33 52.67,336 54,334 C55.33,332 56.83,330.67 59,329 C61.17,327.33 64.17,325.83 67,324 C69.83,322.17 73.67,319.83 76,318 C78.33,316.17 79.5,314.83 81,313 C82.5,311.17 84,309 85,307 C86,305 86.5,303.17 87,301 C87.5,298.83 87.33,296 88,294 C88.67,292 89.5,290.5 91,289 C92.5,287.5 95,286.17 97,285 C99,283.83 100.83,282.75 103,282 C105.17,281.25 107.92,280.82 110,280.5 C112.08,280.18 112.9,279.65 115.5,280.1 C118.1,280.55 122.23,281.83 125.6,283.2 C128.97,284.57 132.55,286.93 135.7,288.3 C138.85,289.67 141.57,291.08 144.5,291.4 C147.43,291.72 150.58,291.13 153.3,290.2 C156.02,289.27 158.28,287.27 160.8,285.8 C163.32,284.33 166.3,282.45 168.4,281.4 C170.5,280.35 171.77,279.52 173.4,279.5 C175.03,279.48 176.17,280.15 178.2,281.3 C180.23,282.45 182.7,284.72 185.6,286.4 C188.5,288.08 192.25,290.35 195.6,291.4 C198.95,292.45 202.33,292.58 205.7,292.7 C209.07,292.82 212.45,292 215.8,292.1 C219.15,292.2 222.43,292.75 225.8,293.3 C229.17,293.85 232.45,295.02 236,295.4 C239.55,295.78 243.58,295.38 247.1,295.6 C250.62,295.82 254.13,295.97 257.1,296.7 C260.07,297.43 262.68,298.52 264.9,300 C267.12,301.48 269.1,303.57 270.4,305.6 C271.7,307.63 272.13,309.8 272.7,312.2 C273.27,314.6 273.55,317.37 273.8,320 C274.05,322.63 274,325.75 274.2,328 C274.4,330.25 274.52,331.32 275,333.5 C275.48,335.68 276.37,338.17 277.1,341.1 C277.83,344.03 278.88,347.38 279.4,351.1 C279.92,354.82 280.33,359.3 280.2,363.4 C280.07,367.5 279.12,371.35 278.6,375.7 C278.08,380.05 277.63,385.45 277.1,389.5 C276.57,393.55 275.87,395.47 275.4,400 C274.93,404.53 275.03,411.15 274.3,416.7 C273.57,422.25 271.68,428.3 271,433.3 C270.32,438.3 271.03,442.8 270.2,446.7 C269.37,450.6 268.08,454.2 266,456.7 C263.92,459.2 261.03,460.32 257.7,461.7 C254.37,463.08 250.17,464.17 246,465 C241.83,465.83 237.03,466.28 232.7,466.7 C228.37,467.12 223.78,467.5 220,467.5 C216.22,467.5 213.88,467.33 210,466.7 C206.12,466.07 201.15,464.6 196.7,463.7 C192.25,462.8 187.75,461.37 183.3,461.3 C178.85,461.23 174.43,463.02 170,463.3 C165.57,463.58 160.03,462.72 156.7,463 C153.37,463.28 153.33,464.67 150,465 C146.67,465.33 141.7,465.08 136.7,465 C131.7,464.92 125.1,464.25 120,464.5 C114.9,464.75 111.82,466.58 106.1,466.5 C100.38,466.42 91.95,464.57 85.7,464 C79.45,463.43 72.58,463.82 68.6,463.1 C64.62,462.38 63.35,462.53 61.8,459.7 C60.25,456.87 60,451.2 59.3,446.1 C58.6,441 58.17,434.78 57.6,429.1 C57.03,423.42 56.33,417.5 55.9,412 C55.47,406.5 55.27,400.72 55,396.1 C54.73,391.48 54.67,388.25 54.3,384.3 C53.93,380.35 53.42,376.12 52.8,372.4 C52.18,368.68 51.08,364.9 50.6,362 C50.12,359.1 50,357 49.9,355 C49.8,353 49.82,352.33 50,350 Z"/>
<path stroke="#a4cc90" d="M45.5,350 C45.68,347.33 45.92,343 46.5,340 C47.08,337 47.92,334.33 49,332 C50.08,329.67 51.17,327.75 53,326 C54.83,324.25 57.67,322.83 60,321.5 C62.33,320.17 65,319.58 67,318 C69,316.42 70.33,314 72,312 C73.67,310 75.83,308 77,306 C78.17,304 78.5,302 79,300 C79.5,298 79.17,295.67 80,294 C80.83,292.33 82.33,291.17 84,290 C85.67,288.83 87.83,288.17 90,287 C92.17,285.83 95,284.08 97,283 C99,281.92 100.17,281.17 102,280.5 C103.83,279.83 105.32,279.58 108,279 C110.68,278.42 114.53,276.92 118.1,277 C121.67,277.08 125.83,278.35 129.4,279.5 C132.97,280.65 136.78,282.75 139.5,283.9 C142.22,285.05 143.4,286.2 145.7,286.4 C148,286.6 150.78,286.15 153.3,285.1 C155.82,284.05 158.07,281.77 160.8,280.1 C163.53,278.43 166.78,276.15 169.7,275.1 C172.62,274.05 175.65,272.97 178.3,273.8 C180.95,274.63 182.72,278.22 185.6,280.1 C188.48,281.98 192.25,283.95 195.6,285.1 C198.95,286.25 202.77,286.88 205.7,287 C208.63,287.12 210.68,285.8 213.2,285.8 C215.72,285.8 217.87,286.38 220.8,287 C223.73,287.62 227.45,288.87 230.8,289.5 C234.15,290.13 238.18,290.35 240.9,290.8 C243.62,291.25 244.22,291.68 247.1,292.2 C249.98,292.72 254.87,292.97 258.2,293.9 C261.53,294.83 264.68,296.23 267.1,297.8 C269.52,299.37 271.22,301.27 272.7,303.3 C274.18,305.33 275.17,307.4 276,310 C276.83,312.6 277.37,316.07 277.7,318.9 C278.03,321.73 277.72,324.45 278,327 C278.28,329.55 278.78,331.47 279.4,334.2 C280.02,336.93 281.07,340.45 281.7,343.4 C282.33,346.35 282.82,348.82 283.2,351.9 C283.58,354.98 284.12,357.93 284,361.9 C283.88,365.87 283.02,371.1 282.5,375.7 C281.98,380.3 281.35,385.45 280.9,389.5 C280.45,393.55 280.07,395.47 279.8,400 C279.53,404.53 279.93,411.15 279.3,416.7 C278.67,422.25 276.68,428.3 276,433.3 C275.32,438.3 275.75,442.25 275.2,446.7 C274.65,451.15 274.23,456.95 272.7,460 C271.17,463.05 268.78,463.62 266,465 C263.22,466.38 259.62,467.33 256,468.3 C252.38,469.27 248.75,469.97 244.3,470.8 C239.85,471.63 234.02,472.88 229.3,473.3 C224.58,473.72 220.33,473.43 216,473.3 C211.67,473.17 207.35,473.05 203.3,472.5 C199.25,471.95 197.25,470 191.7,470 C186.15,470 176.4,472.37 170,472.5 C163.6,472.63 158.85,470.88 153.3,470.8 C147.75,470.72 142.25,471.72 136.7,472 C131.15,472.28 125.1,472 120,472.5 C114.9,473 111.25,474.58 106.1,475 C100.95,475.42 94.2,475.42 89.1,475 C84,474.58 80.05,473.07 75.5,472.5 C70.95,471.93 65.22,473.17 61.8,471.6 C58.38,470.03 56.27,466.78 55,463.1 C53.73,459.42 54.48,455.17 54.2,449.5 C53.92,443.83 53.87,435.35 53.3,429.1 C52.73,422.85 51.37,417.68 50.8,412 C50.23,406.32 50.05,398.88 49.9,395 C49.75,391.12 50.15,391.72 49.9,388.7 C49.65,385.68 49.03,380.6 48.4,376.9 C47.77,373.2 46.6,369.98 46.1,366.5 C45.6,363.02 45.5,358.75 45.4,356 C45.3,353.25 45.32,352.67 45.5,350 Z"/>
<path stroke="#62c4b4" d="M42.5,350 C42.68,346.32 42.92,340.67 43.5,337 C44.08,333.33 44.75,330.5 46,328 C47.25,325.5 49.17,323.83 51,322 C52.83,320.17 55,318.5 57,317 C59,315.5 61.17,314.5 63,313 C64.83,311.5 66.67,309.83 68,308 C69.33,306.17 70.17,304.17 71,302 C71.83,299.83 72.17,296.83 73,295 C73.83,293.17 74.67,292.25 76,291 C77.33,289.75 79,288.67 81,287.5 C83,286.33 85.67,285.08 88,284 C90.33,282.92 93.17,281.75 95,281 C96.83,280.25 96.83,280.17 99,279.5 C101.17,278.83 104.4,278.05 108,277 C111.6,275.95 116.82,273.52 120.6,273.2 C124.38,272.88 127.35,274.27 130.7,275.1 C134.05,275.93 137.57,277.27 140.7,278.2 C143.83,279.13 146.98,280.6 149.5,280.7 C152.02,280.8 153.48,279.85 155.8,278.8 C158.12,277.75 160.88,275.65 163.4,274.4 C165.92,273.15 168.42,271.98 170.9,271.3 C173.38,270.62 175.85,269.67 178.3,270.3 C180.75,270.93 182.72,273.57 185.6,275.1 C188.48,276.63 192.25,278.57 195.6,279.5 C198.95,280.43 202.55,280.6 205.7,280.7 C208.85,280.8 211.57,279.68 214.5,280.1 C217.43,280.52 220.37,282.05 223.3,283.2 C226.23,284.35 229.17,286.15 232.1,287 C235.03,287.85 238.4,287.8 240.9,288.3 C243.4,288.8 244.03,289.35 247.1,290 C250.17,290.65 255.78,291.08 259.3,292.2 C262.82,293.32 265.6,295.03 268.2,296.7 C270.8,298.37 273.05,300.17 274.9,302.2 C276.75,304.23 278.18,306.3 279.3,308.9 C280.42,311.5 281.07,314.78 281.6,317.8 C282.13,320.82 282.27,324.27 282.5,327 C282.73,329.73 282.62,331.2 283,334.2 C283.38,337.2 284.25,340.9 284.8,345 C285.35,349.1 286.18,354.45 286.3,358.8 C286.42,363.15 285.75,366.48 285.5,371.1 C285.25,375.72 285,381.68 284.8,386.5 C284.6,391.32 284.52,394.97 284.3,400 C284.08,405.03 283.92,411.15 283.5,416.7 C283.08,422.25 282.08,427.75 281.8,433.3 C281.52,438.85 282.07,445 281.8,450 C281.53,455 281.45,459.97 280.2,463.3 C278.95,466.63 277.22,468.05 274.3,470 C271.38,471.95 266.87,473.88 262.7,475 C258.53,476.12 254.3,476.15 249.3,476.7 C244.3,477.25 238.25,477.88 232.7,478.3 C227.15,478.72 220.9,479.13 216,479.2 C211.1,479.27 208.18,478.78 203.3,478.7 C198.42,478.62 192.25,478.7 186.7,478.7 C181.15,478.7 175.57,478.77 170,478.7 C164.43,478.63 158.85,478.22 153.3,478.3 C147.75,478.38 142.25,479 136.7,479.2 C131.15,479.4 127.93,479.48 120,479.5 C112.07,479.52 98.52,479.48 89.1,479.3 C79.68,479.12 69.75,479.12 63.5,478.4 C57.25,477.68 54.15,476.98 51.6,475 C49.05,473.02 48.77,471.32 48.2,466.5 C47.63,461.68 48.33,452.33 48.2,446.1 C48.07,439.87 47.68,434.78 47.4,429.1 C47.12,423.42 46.78,417.68 46.5,412 C46.22,406.32 45.88,399.13 45.7,395 C45.52,390.87 45.57,390.22 45.4,387.2 C45.23,384.18 44.95,380.1 44.7,376.9 C44.45,373.7 44.28,370.97 43.9,368 C43.52,365.03 42.63,362.1 42.4,359.1 C42.17,356.1 42.32,353.68 42.5,350 Z"/>
<path stroke="#4cb8d6" d="M42,329.5 C42.5,328.42 43.67,325 45,323 C46.33,321 48.17,319 50,317.5 C51.83,316 54.25,315.08 56,314 C57.75,312.92 59.17,312.5 60.5,311 C61.83,309.5 62.92,306.83 64,305 C65.08,303.17 66,301.67 67,300 C68,298.33 68.83,296.67 70,295 C71.17,293.33 72.33,291.33 74,290 C75.67,288.67 77.67,288.17 80,287 C82.33,285.83 85.5,284.25 88,283 C90.5,281.75 92.22,280.72 95,279.5 C97.78,278.28 101.7,276.62 104.7,275.7 C107.7,274.78 109.93,274.83 113,274 C116.07,273.17 119.73,270.93 123.1,270.7 C126.47,270.47 129.85,271.98 133.2,272.6 C136.55,273.22 140.27,274 143.2,274.4 C146.13,274.8 148.28,275.42 150.8,275 C153.32,274.58 156.2,272.73 158.3,271.9 C160.4,271.07 161.12,270.57 163.4,270 C165.68,269.43 168.93,268.7 172,268.5 C175.07,268.3 178.7,268.12 181.8,268.8 C184.9,269.48 187.45,271.45 190.6,272.6 C193.75,273.75 197.35,274.97 200.7,275.7 C204.05,276.43 207.57,276.48 210.7,277 C213.83,277.52 216.57,277.65 219.5,278.8 C222.43,279.95 225.37,282.63 228.3,283.9 C231.23,285.17 233.97,285.75 237.1,286.4 C240.23,287.05 243.58,287.2 247.1,287.8 C250.62,288.4 254.68,288.8 258.2,290 C261.72,291.2 265.23,293.15 268.2,295 C271.17,296.85 273.77,298.97 276,301.1 C278.23,303.23 280.22,305.2 281.6,307.8 C282.98,310.4 283.67,313.5 284.3,316.7 C284.93,319.9 285.2,324.33 285.4,327 C285.6,329.67 285.22,330.47 285.5,332.7 C285.78,334.93 286.83,339.12 287.1,340.4"/>
<path stroke="#4cb8d6" d="M287.1,363.4 L287.1,371.1"/>
<path stroke="#4cb8d6" d="M287.1,394.2 L287.4,420"/>
<path stroke="#4cb8d6" d="M287.5,435 L287.5,443.3"/>
<path stroke="#4cb8d6" d="M286,456.7 C285.45,458.92 283.82,466.67 282.7,470 C281.58,473.33 282.08,475.03 279.3,476.7 C276.52,478.37 271,479.32 266,480 C261,480.68 254.02,480.52 249.3,480.8 C244.58,481.08 239.63,481.55 237.7,481.7"/>
<path stroke="#4cb8d6" d="M222.7,481.7 L216,482.5"/>
<path stroke="#4cb8d6" d="M205.8,482.5 L220,482.5"/>
<path stroke="#4cb8d6" d="M197,483 L199,483"/>
<path stroke="#4cb8d6" d="M170,483 L181.7,482.5"/>
<path stroke="#4cb8d6" d="M281,482.5 L286,479.2"/>
<path stroke="#4cb8d6" d="M58.4,482.7 C56.42,482.27 49.05,481.67 46.5,480.1 C43.95,478.53 43.8,476.13 43.1,473.3 C42.4,470.47 42.43,464.8 42.3,463.1"/>
<path stroke="#4cb8d6" d="M42.3,401.8 L42.3,406.9"/>
<path stroke="#4cb8d6" d="M42,329.5 L41.6,334"/>
<path stroke="#4f94dc" stroke-dasharray="5 4" d="M47.5,315.5 C48.5,314.67 51.75,312 53.5,310.5 C55.25,309 56.58,308.33 58,306.5 C59.42,304.67 60.92,301.08 62,299.5 C63.08,297.92 63.33,297.92 64.5,297 C65.67,296.08 67.75,295.08 69,294 C70.25,292.92 70.5,291.5 72,290.5 C73.5,289.5 76.33,288.83 78,288 C79.67,287.17 80.67,286.25 82,285.5 C83.33,284.75 84.5,284.17 86,283.5 C87.5,282.83 89.17,282.28 91,281.5 C92.83,280.72 95.55,279.45 97,278.8 C98.45,278.15 98.2,278.12 99.7,277.6 C101.2,277.08 103.78,276.43 106,275.7 C108.22,274.97 110.67,273.98 113,273.2 C115.33,272.42 118.83,271.37 120,271"/>
<path stroke="#4f94dc" d="M133.2,269.4 C134.45,269.55 138.18,270.3 140.7,270.3 C143.22,270.3 147.03,269.55 148.3,269.4"/>
<path stroke="#4f94dc" d="M155.8,270 L163.4,269.4"/>
<path stroke="#4f94dc" d="M188.1,269.4 C189.57,269.82 193.97,271.27 196.9,271.9 C199.83,272.53 202.77,272.88 205.7,273.2 C208.63,273.52 211.78,273.28 214.5,273.8 C217.22,274.32 219.48,275.03 222,276.3 C224.52,277.57 227.08,279.93 229.6,281.4 C232.12,282.87 234.37,284.4 237.1,285.1 C239.83,285.8 243.03,285.33 246,285.6 C248.97,285.87 251.93,285.6 254.9,286.7 C257.87,287.8 261.02,290.35 263.8,292.2 C266.58,294.05 269.2,295.77 271.6,297.8 C274,299.83 276.17,302.18 278.2,304.4 C280.23,306.62 282.32,308.87 283.8,311.1 C285.28,313.33 286.37,315.38 287.1,317.8 C287.83,320.22 288.02,324.3 288.2,325.6"/>
<path stroke="#5450c8" d="M198.8,268.8 L210.7,270.7"/>
<path stroke="#5450c8" d="M221.4,273.2 L228.3,277"/>
<path stroke="#5450c8" d="M242.2,282.6 L247.2,283.2"/>
<path stroke="#5450c8" stroke-width="2.0" d="M252,285 L261,289"/>
<path stroke="#5450c8" stroke-width="2.2" d="M272,298 L276,301"/>
<path stroke="#5450c8" stroke-width="2.2" d="M277,304 L281.5,308"/>
<path stroke="#5450c8" stroke-width="2.0" d="M283,312.5 L286.5,317"/>
</g></g>
<g font-family="Liberation Sans, Arial, sans-serif" font-size="5.5" fill="#222" text-anchor="middle" stroke="#fcfcfc" stroke-width="1.6" paint-order="stroke" stroke-linejoin="round">
<text x="124.5" y="331.8" dy="2" transform="rotate(-40 124.5 331.8)">2.2</text>
<text x="60" y="302.5" dy="2" transform="rotate(-60 60 302.5)">1</text>
<text x="64.3" y="304.5" dy="2" transform="rotate(-60 64.3 304.5)">1.2</text>
<text x="150.8" y="275" dy="2" transform="rotate(0 150.8 275)">1.2</text>
<text x="235.3" y="280.7" dy="2" transform="rotate(15 235.3 280.7)">0.8</text>
<text x="268.8" y="338.5" dy="2" transform="rotate(-80 268.8 338.5)">2</text>
<text x="277.2" y="341.5" dy="2" transform="rotate(-75 277.2 341.5)">1.8</text>
<text x="283.2" y="352" dy="2" transform="rotate(-80 283.2 352)">1.6</text>
<text x="286.8" y="428.3" dy="2" transform="rotate(90 286.8 428.3)">1.2</text>
<text x="230.2" y="482.2" dy="2" transform="rotate(0 230.2 482.2)">1.2</text>
<text x="44.7" y="377" dy="2" transform="rotate(90 44.7 377)">1.4</text>
<text x="272.5" y="305" dy="2" transform="rotate(55 272.5 305)" fill="#22226a">1.2</text>
<text x="278" y="309" dy="2" transform="rotate(55 278 309)" fill="#22226a">1.4</text>
</g>
<rect x="37.9" y="0.6" width="253.5" height="221" fill="none" stroke="#555" stroke-width="1.2"/>
<path d="M51.4,221.6 V216.8 M107.9,221.6 V216.8 M164.4,221.6 V216.8 M220.9,221.6 V216.8 M277.4,221.6 V216.8 M37.9,189.9 H42.4 M37.9,157.8 H42.4 M37.9,125.7 H42.4 M37.9,93.6 H42.4 M37.9,61.5 H42.4 M37.9,29.4 H42.4" stroke="#222" stroke-width="1" fill="none"/>
<g font-family="Liberation Serif, Times New Roman, serif" font-size="14" fill="#000" stroke="#000" stroke-width="0.25">
<text x="51.4" y="238.5" text-anchor="middle">2</text>
<text x="107.9" y="238.5" text-anchor="middle">1</text>
<text x="164.4" y="238.5" text-anchor="middle">0</text>
<text x="220.9" y="238.5" text-anchor="middle">−1</text>
<text x="277.4" y="238.5" text-anchor="middle">−2</text>
<text x="33.3" y="195.3" text-anchor="end">0.5</text>
<text x="33.3" y="163.2" text-anchor="end">1.0</text>
<text x="33.3" y="131.1" text-anchor="end">1.5</text>
<text x="33.3" y="99" text-anchor="end">2.0</text>
<text x="33.3" y="66.9" text-anchor="end">2.5</text>
<text x="33.3" y="34.8" text-anchor="end">3.0</text>
<text x="164.4" y="253.7" text-anchor="middle"><tspan font-style="italic">x</tspan>/m</text>
<text x="10.6" y="103.5" text-anchor="middle" transform="rotate(-90 10.6 103.5)"><tspan font-style="italic">y</tspan>/m</text>
<text x="41.8" y="14.8" font-size="14.5">(a)</text>
</g>
<rect x="346.1" y="0.6" width="253.4" height="221" fill="none" stroke="#555" stroke-width="1.2"/>
<path d="M359.4,221.6 V216.8 M416.1,221.6 V216.8 M472.8,221.6 V216.8 M529.5,221.6 V216.8 M586.2,221.6 V216.8 M346.1,193.55 H350.6 M346.1,165.6 H350.6 M346.1,137.65 H350.6 M346.1,109.7 H350.6 M346.1,81.75 H350.6 M346.1,53.8 H350.6 M346.1,25.85 H350.6" stroke="#222" stroke-width="1" fill="none"/>
<g font-family="Liberation Serif, Times New Roman, serif" font-size="14" fill="#000" stroke="#000" stroke-width="0.25">
<text x="359.4" y="238.5" text-anchor="middle">2</text>
<text x="416.1" y="238.5" text-anchor="middle">1</text>
<text x="472.8" y="238.5" text-anchor="middle">0</text>
<text x="529.5" y="238.5" text-anchor="middle">−1</text>
<text x="586.2" y="238.5" text-anchor="middle">−2</text>
<text x="341.5" y="198.95" text-anchor="end">0.5</text>
<text x="341.5" y="171" text-anchor="end">1.0</text>
<text x="341.5" y="143.05" text-anchor="end">1.5</text>
<text x="341.5" y="115.1" text-anchor="end">2.0</text>
<text x="341.5" y="87.15" text-anchor="end">2.5</text>
<text x="341.5" y="59.2" text-anchor="end">3.0</text>
<text x="341.5" y="31.25" text-anchor="end">3.5</text>
<text x="472.8" y="253.7" text-anchor="middle"><tspan font-style="italic">x</tspan>/m</text>
<text x="318.4" y="103.5" text-anchor="middle" transform="rotate(-90 318.4 103.5)"><tspan font-style="italic">y</tspan>/m</text>
<text x="349.2" y="14.8" font-size="14.5">(b)</text>
</g>
<rect x="37.9" y="265.3" width="253.5" height="221.1" fill="none" stroke="#555" stroke-width="1.2"/>
<path d="M51.4,486.4 V481.6 M107.9,486.4 V481.6 M164.4,486.4 V481.6 M220.9,486.4 V481.6 M277.4,486.4 V481.6 M37.9,461.92 H42.4 M37.9,411.97 H42.4 M37.9,362.02 H42.4 M37.9,312.07 H42.4" stroke="#222" stroke-width="1" fill="none"/>
<g font-family="Liberation Serif, Times New Roman, serif" font-size="14" fill="#000" stroke="#000" stroke-width="0.25">
<text x="51.4" y="503.3" text-anchor="middle">2</text>
<text x="107.9" y="503.3" text-anchor="middle">1</text>
<text x="164.4" y="503.3" text-anchor="middle">0</text>
<text x="220.9" y="503.3" text-anchor="middle">−1</text>
<text x="277.4" y="503.3" text-anchor="middle">−2</text>
<text x="33.3" y="467.32" text-anchor="end">0.5</text>
<text x="33.3" y="417.37" text-anchor="end">1.5</text>
<text x="33.3" y="367.42" text-anchor="end">2.5</text>
<text x="33.3" y="317.47" text-anchor="end">3.5</text>
<text x="164.4" y="518.6" text-anchor="middle"><tspan font-style="italic">x</tspan>/m</text>
<text x="10.6" y="369.8" text-anchor="middle" transform="rotate(-90 10.6 369.8)"><tspan font-style="italic">y</tspan>/m</text>
<text x="41.8" y="281.3" font-size="14.5">(C)</text>
</g>
<text x="171.6" y="532.6" font-family="Liberation Serif, Times New Roman, serif" font-size="14.5" fill="#000" stroke="#000" stroke-width="0.25">(a) <tspan font-style="italic">H</tspan>=3.5 m; (b) <tspan font-style="italic">H</tspan>=4.0 m; (c) <tspan font-style="italic">H</tspan>=4.5 m</text>
<g font-family="Liberation Sans, Noto Sans CJK SC, sans-serif" fill="#f0c0c0"><text x="504.3" y="536.2" font-size="9.5">@</text><text x="512.2" y="536.6" font-size="12.6" letter-spacing="1.45">有色金属在线</text></g>
</svg></body></html>
